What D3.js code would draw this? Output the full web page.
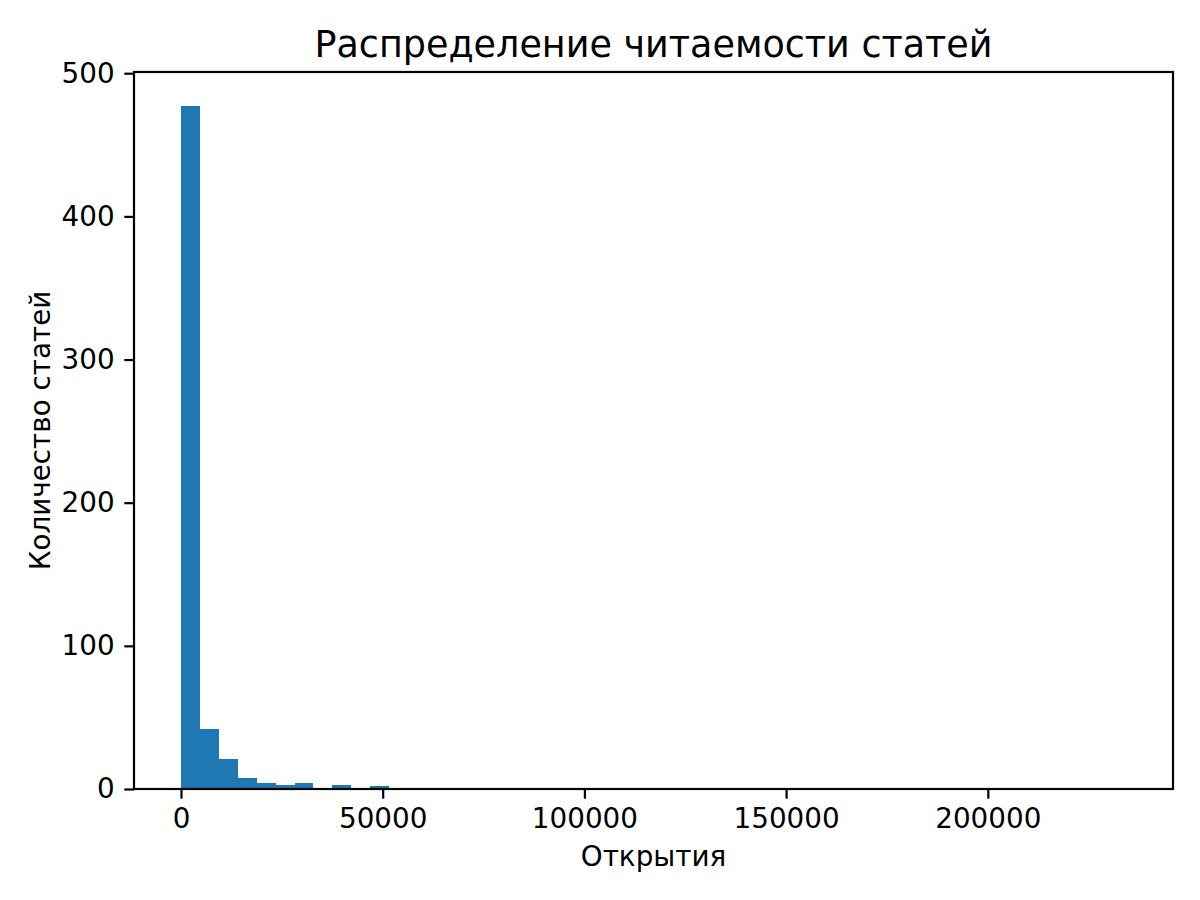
<!DOCTYPE html>
<html>
<head>
<meta charset="utf-8">
<script src="https://cdn.jsdelivr.net/npm/d3@7"></script>
<style>
  html, body { margin: 0; padding: 0; background: #fff; }
  svg { display: block; }
  text { font-family: "DejaVu Sans", sans-serif; fill: #000; }
</style>
</head>
<body>
<svg id="chart" width="1200" height="900"></svg>
<script>
// ---- data ----
const title = "Распределение читаемости статей";
const xLabel = "Открытия";
const yLabel = "Количество статей";
const dataMin = 60;        // smallest number of opens
const dataMax = 234200;    // largest number of opens
const binCounts = [
  477, 42, 21, 8, 4, 3, 4, 0, 3, 0,
  2, 0, 0, 0, 0, 0, 0, 0, 0, 0,
  0, 0, 0, 0, 0, 0, 0, 0, 0, 0,
  0, 0, 0, 0, 0, 0, 0, 0, 0, 0,
  0, 0, 0, 0, 0, 0, 0, 0, 0, 1
];
const xTicks = [0, 50000, 100000, 150000, 200000];
const yTicks = [0, 100, 200, 300, 400, 500];

// ---- layout ----
const pLeft = 134, pRight = 1173, pTop = 72, pBottom = 789;
const nBins = binCounts.length;
const binW = (dataMax - dataMin) / nBins;
const bins = binCounts.map((c, i) => ({ x0: dataMin + i * binW, x1: dataMin + (i + 1) * binW, count: c }));

const span = dataMax - dataMin;
const x = d3.scaleLinear()
  .domain([dataMin - 0.05 * span, dataMax + 0.05 * span])
  .range([pLeft, pRight]);
const yMax = d3.max(binCounts) * 1.05;
const y = d3.scaleLinear().domain([0, yMax]).range([pBottom, pTop]);

const svg = d3.select("#chart");

svg.append("g").attr("shape-rendering", "crispEdges")
  .selectAll("rect").data(bins.filter(d => d.count > 0)).join("rect")
  .attr("x", d => x(d.x0))
  .attr("width", d => x(d.x1) - x(d.x0))
  .attr("y", d => y(d.count))
  .attr("height", d => y(0) - y(d.count))
  .attr("fill", "#1f77b4");

const fs = 27.8, tick = 9.7;

const gx = svg.append("g").attr("transform", `translate(0,${pBottom})`)
  .call(d3.axisBottom(x).tickValues(xTicks).tickFormat(d3.format("d")).tickSize(tick).tickPadding(tick).tickSizeOuter(0));
gx.select(".domain").remove();
gx.selectAll("line").attr("stroke", "#000").attr("stroke-width", 2.2);
gx.selectAll("text").attr("font-size", fs).attr("font-family", "DejaVu Sans");

const gy = svg.append("g").attr("transform", `translate(${pLeft},0)`)
  .call(d3.axisLeft(y).tickValues(yTicks).tickFormat(d3.format("d")).tickSize(tick).tickPadding(tick).tickSizeOuter(0));
gy.select(".domain").remove();
gy.selectAll("line").attr("stroke", "#000").attr("stroke-width", 2.2);
gy.selectAll("text").attr("font-size", fs).attr("font-family", "DejaVu Sans");

svg.append("rect")
  .attr("x", pLeft).attr("y", pTop)
  .attr("width", pRight - pLeft).attr("height", pBottom - pTop)
  .attr("fill", "none").attr("stroke", "#000").attr("stroke-width", 2.2);

svg.append("text")
  .attr("x", (pLeft + pRight) / 2).attr("y", 57)
  .attr("text-anchor", "middle").attr("font-size", 36.5)
  .text(title);

svg.append("text")
  .attr("x", (pLeft + pRight) / 2).attr("y", 866)
  .attr("text-anchor", "middle").attr("font-size", fs)
  .text(xLabel);

svg.append("text")
  .attr("transform", `translate(50,${(pTop + pBottom) / 2}) rotate(-90)`)
  .attr("text-anchor", "middle").attr("font-size", fs)
  .text(yLabel);
</script>
</body>
</html>
